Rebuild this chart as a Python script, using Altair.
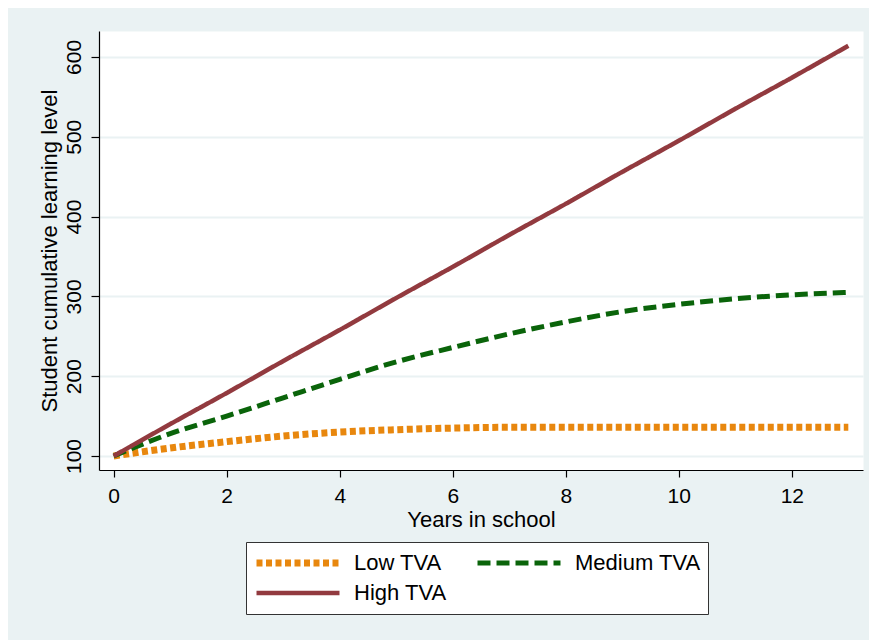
import altair as alt
import pandas as pd

# ---- data ----
years = [0, 1, 2, 3, 4, 5, 6, 7, 8, 9, 10, 11, 12, 13]
low_tva = [100, 110, 118, 125, 130, 133, 135, 136, 136, 136, 136, 136, 136, 136]
medium_tva = [100, 128, 150, 173, 196, 218, 236, 253, 268, 281, 290, 297, 302, 305]
high_tva = [100, 140, 179, 219, 258, 298, 337, 377, 416, 456, 495, 535, 574, 614]

series_names = ["Low TVA", "Medium TVA", "High TVA"]
series_values = [low_tva, medium_tva, high_tva]
series_colors = ["#E8870E", "#0A640A", "#923A3F"]
series_dashes = [[6, 3.5], [13, 6], [1, 0]]
series_widths = [7, 5, 4.5]

x_ticks = [0, 2, 4, 6, 8, 10, 12]
y_ticks = [100, 200, 300, 400, 500, 600]

rows = []
for name, vals in zip(series_names, series_values):
    for x, v in zip(years, vals):
        rows.append({"year": x, "level": v, "series": name})
df = pd.DataFrame(rows)

FONT = "Arial, Liberation Sans, sans-serif"
BG = "#EAF2F3"

legend = alt.Legend(
    orient="none", legendX=147, legendY=511, columns=2, direction="horizontal",
    columnPadding=27, rowPadding=2, clipHeight=28, symbolSize=6889,
    symbolType="stroke", labelFontSize=22, labelFont=FONT, labelColor="black",
    labelOffset=11, padding=7, strokeColor="#333333", fillColor="white",
)

chart = alt.Chart(df).mark_line(interpolate="monotone", strokeCap="butt").encode(
    x=alt.X(
        "year:Q",
        scale=alt.Scale(domain=[-0.26, 13.26], nice=False, zero=False),
        axis=alt.Axis(
            values=x_ticks, title="Years in school", grid=False,
            tickSize=7, labelPadding=25.5, labelBaseline="alphabetic",
            labelFlush=False, labelFontSize=21, titleFontSize=22,
            titleFontWeight="normal", titleX=382, titleY=56,
            titleAlign="center", titleBaseline="alphabetic",
        ),
    ),
    y=alt.Y(
        "level:Q",
        scale=alt.Scale(domain=[82.5, 632.5], nice=False, zero=False),
        axis=alt.Axis(
            values=y_ticks, title="Student cumulative learning level",
            grid=True, gridColor=BG, gridWidth=2, tickSize=8,
            labelAngle=270, labelAlign="center", labelBaseline="alphabetic",
            labelPadding=11, labelFlush=False, labelFontSize=21,
            titleFontSize=22, titleFontWeight="normal", titleAngle=270,
            titleX=-43, titleY=219.5, titleAlign="center",
            titleBaseline="alphabetic",
        ),
    ),
    color=alt.Color(
        "series:N", title=None,
        scale=alt.Scale(domain=series_names, range=series_colors),
        legend=legend,
    ),
    strokeDash=alt.StrokeDash(
        "series:N", title=None,
        scale=alt.Scale(domain=series_names, range=series_dashes),
        legend=legend,
    ),
    strokeWidth=alt.StrokeWidth(
        "series:N", title=None,
        scale=alt.Scale(type="ordinal", domain=series_names, range=series_widths),
        legend=legend,
    ),
).properties(
    width=764,
    height=439,
    background=BG,
    padding={"left": 91, "top": 23, "right": 6, "bottom": 170},
    autosize=alt.AutoSizeParams(type="none"),
).configure_view(
    fill="white", stroke="transparent"
).configure_axis(
    labelFont=FONT, titleFont=FONT, labelColor="black", titleColor="black",
    domainColor="black", tickColor="black", domainWidth=1.2, tickWidth=1.2,
)

chart.save("out.html", embed_options={"renderer": "svg", "actions": False})
